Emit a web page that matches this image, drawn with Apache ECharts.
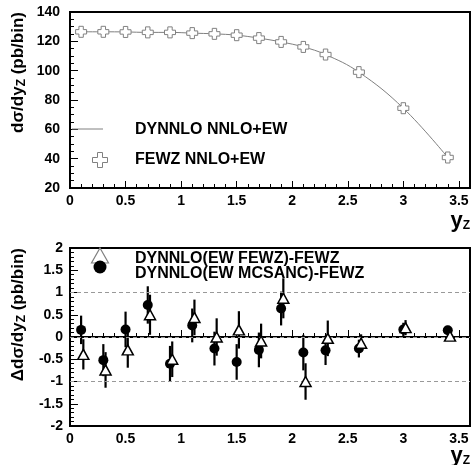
<!DOCTYPE html>
<html>
<head>
<meta charset="utf-8">
<script src="https://cdn.jsdelivr.net/npm/echarts@6/dist/echarts.min.js"></script>
<style>html,body{margin:0;padding:0;background:#fff}#c{width:473px;height:465px}</style>
</head>
<body>
<div id="c"></div>
<script>
const yBins = [0.1, 0.3, 0.5, 0.7, 0.9, 1.1, 1.3, 1.5, 1.7, 1.9, 2.1, 2.3, 2.6, 3.0, 3.4];
const dynnloNNLOEW = [126.5, 126.5, 126.4, 126.1, 126.1, 125.6, 125.1, 124.2, 122.2, 119.6, 116.2, 111.0, 99.0, 74.4, 40.8];
const fewzNNLOEW   = [126.5, 126.5, 126.4, 126.1, 126.1, 125.6, 125.1, 124.2, 122.2, 119.6, 116.2, 111.0, 99.0, 74.4, 40.8];
const diffEwFewz   = [-0.39, -0.74, -0.29, 0.50, -0.50, 0.44, 0.00, 0.16, -0.09, 0.87, -1.00, -0.03, -0.14, 0.21, 0.02];
const errEwFewz    = [0.34, 0.40, 0.40, 0.45, 0.40, 0.40, 0.42, 0.42, 0.39, 0.45, 0.41, 0.40, 0.20, 0.17, 0.08];
const diffEwMcsanc = [0.16, -0.52, 0.17, 0.72, -0.60, 0.26, -0.26, -0.56, -0.29, 0.64, -0.35, -0.30, -0.26, 0.17, 0.15];
const errEwMcsanc  = [0.32, 0.36, 0.40, 0.42, 0.40, 0.38, 0.38, 0.40, 0.39, 0.38, 0.40, 0.33, 0.20, 0.15, 0.10];
const refLines = [-1, 0, 1];
const triOffset = 0.02;

const FONT = '"Liberation Sans", Arial, Helvetica, sans-serif';
const crossPath = 'path://M3,0L7,0L7,3L10,3L10,7L7,7L7,10L3,10L3,7L0,7L0,3L3,3Z';

const chart = echarts.init(document.getElementById('c'), null, {renderer: 'canvas'});

function xAxisCfg(gridIndex) {
  return {
    type: 'value', gridIndex, min: 0, max: 3.6, interval: 0.5,
    axisLine: {show: true, lineStyle: {color: '#000', width: 2}},
    axisTick: {show: true, inside: true, length: 7, lineStyle: {color: '#000', width: 1}},
    minorTick: {show: true, splitNumber: 5, length: 4, lineStyle: {color: '#000', width: 1}},
    splitLine: {show: false},
    axisLabel: {show: true, margin: 6, color: '#000', fontFamily: FONT, fontWeight: 'bold', fontSize: 14,
      showMaxLabel: false, formatter: v => (Math.abs(v - 3.6) < 1e-6 ? '' : String(v))}
  };
}

function errData(xs, ys, es, off) {
  return xs.map((x, i) => [x + off, ys[i], es[i]]);
}
function errRender(params, api) {
  const x = api.value(0), y = api.value(1), e = api.value(2);
  const p1 = api.coord([x, y + e]);
  const p2 = api.coord([x, y - e]);
  return {type: 'line', shape: {x1: p1[0], y1: p1[1], x2: p2[0], y2: p2[1]},
    style: {stroke: '#000', lineWidth: 2.2}};
}

const subRich = {
  sub: {fontSize: 12, fontWeight: 'bold', fontFamily: FONT, fill: '#000', verticalAlign: 'bottom', padding: [7, 0, 0, 0]}
};

function crossPts(cx, cy, a, b) {
  return [[cx - a, cy - b], [cx + a, cy - b], [cx + a, cy - a], [cx + b, cy - a], [cx + b, cy + a], [cx + a, cy + a],
    [cx + a, cy + b], [cx - a, cy + b], [cx - a, cy + a], [cx - b, cy + a], [cx - b, cy - a], [cx - a, cy - a]];
}

const option = {
  backgroundColor: '#fff',
  animation: false,
  grid: [
    {left: 70, right: 3, top: 12, height: 176, show: true, borderColor: '#000', borderWidth: 2, backgroundColor: 'transparent'},
    {left: 70, right: 3, top: 248, height: 178, show: true, borderColor: '#000', borderWidth: 2, backgroundColor: 'transparent'}
  ],
  xAxis: [xAxisCfg(0), xAxisCfg(1)],
  yAxis: [
    {type: 'value', gridIndex: 0, min: 20, max: 140, interval: 20,
      axisLine: {show: true, lineStyle: {color: '#000', width: 2}},
      axisTick: {show: true, inside: true, length: 8, lineStyle: {color: '#000', width: 1}},
      minorTick: {show: true, splitNumber: 4, length: 4, lineStyle: {color: '#000', width: 1}},
      splitLine: {show: false},
      axisLabel: {margin: 10, color: '#000', fontFamily: FONT, fontWeight: 'bold', fontSize: 14}},
    {type: 'value', gridIndex: 1, min: -2, max: 2, interval: 0.5,
      axisLine: {show: true, lineStyle: {color: '#000', width: 2}},
      axisTick: {show: true, inside: true, length: 8, lineStyle: {color: '#000', width: 1}},
      minorTick: {show: true, splitNumber: 5, length: 4, lineStyle: {color: '#000', width: 1}},
      splitLine: {show: false},
      axisLabel: {margin: 7, color: '#000', fontFamily: FONT, fontWeight: 'bold', fontSize: 14}}
  ],
  series: [
    {name: 'DYNNLO NNLO+EW', type: 'line', xAxisIndex: 0, yAxisIndex: 0, smooth: 0.4, symbol: 'none',
      lineStyle: {color: '#808080', width: 1}, data: yBins.map((x, i) => [x, dynnloNNLOEW[i]]), z: 2},
    {name: 'FEWZ NNLO+EW', type: 'scatter', xAxisIndex: 0, yAxisIndex: 0, symbol: crossPath, symbolSize: 11,
      itemStyle: {color: '#fff', borderColor: '#808080', borderWidth: 1, opacity: 1},
      data: yBins.map((x, i) => [x, fewzNNLOEW[i]]), z: 3},
    {name: 'errFewz', type: 'custom', xAxisIndex: 1, yAxisIndex: 1, renderItem: errRender,
      data: errData(yBins, diffEwFewz, errEwFewz, triOffset), z: 2,
      markLine: {symbol: 'none', silent: true, label: {show: false},
        lineStyle: {type: [4, 3], color: '#999', width: 1},
        data: refLines.map(v => ({yAxis: v}))}},
    {name: 'errMcsanc', type: 'custom', xAxisIndex: 1, yAxisIndex: 1, renderItem: errRender,
      data: errData(yBins, diffEwMcsanc, errEwMcsanc, 0), z: 2},
    {name: 'DYNNLO(EW MCSANC)-FEWZ', type: 'scatter', xAxisIndex: 1, yAxisIndex: 1, symbol: 'circle', symbolSize: 10,
      itemStyle: {color: '#000', opacity: 1}, data: yBins.map((x, i) => [x, diffEwMcsanc[i]]), z: 4},
    {name: 'DYNNLO(EW FEWZ)-FEWZ', type: 'scatter', xAxisIndex: 1, yAxisIndex: 1, symbol: 'triangle', symbolSize: [11, 10],
      itemStyle: {color: '#fff', borderColor: '#000', borderWidth: 1.5, opacity: 1},
      data: yBins.map((x, i) => [x + triOffset, diffEwFewz[i]]), z: 5}
  ],
  graphic: [
    {type: 'line', shape: {x1: 72, y1: 129, x2: 103, y2: 129}, style: {stroke: '#808080', lineWidth: 1}, z: 10},
    {type: 'text', x: 135, y: 122, style: {text: 'DYNNLO NNLO+EW', font: 'bold 16px ' + FONT, fill: '#000'}, z: 10},
    {type: 'polygon', shape: {points: crossPts(100, 160, 2.5, 7.5)}, style: {fill: '#fff', stroke: '#808080', lineWidth: 1}, z: 10},
    {type: 'text', x: 135, y: 152, style: {text: 'FEWZ NNLO+EW', font: 'bold 16px ' + FONT, fill: '#000'}, z: 10},
    {type: 'polygon', shape: {points: [[100, 248], [108.5, 263], [91.5, 263]]}, style: {fill: '#fff', stroke: '#808080', lineWidth: 1.2}, z: 10},
    {type: 'circle', shape: {cx: 100, cy: 267, r: 6.5}, style: {fill: '#000'}, z: 10},
    {type: 'text', x: 135, y: 251, style: {text: 'DYNNLO(EW FEWZ)-FEWZ', font: 'bold 16px ' + FONT, fill: '#000'}, z: 10},
    {type: 'text', x: 135, y: 266, style: {text: 'DYNNLO(EW MCSANC)-FEWZ', font: 'bold 16px ' + FONT, fill: '#000'}, z: 10},
    {type: 'text', x: 470, y: 232, style: {text: 'y{sub|Z}', align: 'right', verticalAlign: 'bottom',
      font: 'bold 22px ' + FONT, fill: '#000', rich: subRich}, z: 10},
    {type: 'text', x: 470, y: 467, style: {text: 'y{sub|Z}', align: 'right', verticalAlign: 'bottom',
      font: 'bold 22px ' + FONT, fill: '#000', rich: subRich}, z: 10},
    {type: 'text', x: 9, y: 12, rotation: Math.PI / 2,
      style: {text: 'd\u03c3/dy{sub|Z} (pb/bin)', align: 'right', verticalAlign: 'top', font: 'bold 17px ' + FONT, fill: '#000', rich: subRich}, z: 10},
    {type: 'text', x: 9, y: 248, rotation: Math.PI / 2,
      style: {text: '\u0394d\u03c3/dy{sub|Z} (pb/bin)', align: 'right', verticalAlign: 'top', font: 'bold 17px ' + FONT, fill: '#000', rich: subRich}, z: 10}
  ]
};
chart.setOption(option);
</script>
</body>
</html>
